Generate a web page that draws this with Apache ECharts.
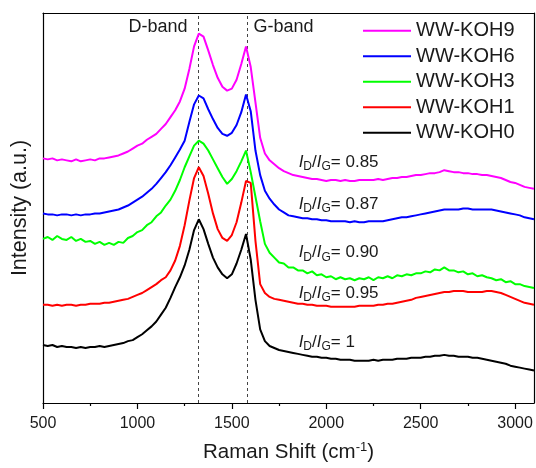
<!DOCTYPE html>
<html>
<head>
<meta charset="utf-8">
<script src="https://cdn.jsdelivr.net/npm/echarts@6/dist/echarts.min.js"></script>
<style>
  html, body { margin: 0; padding: 0; background: #fff; }
  #chart { width: 536px; height: 468px; }
</style>
</head>
<body>
<div id="chart"></div>
<script>
// Raman shift sampling (cm-1), 500 to 3100 in steps of 25
const ramanShift = [];
for (let w = 500; w <= 3100; w += 25) ramanShift.push(w);

// Stacked (offset) intensities, arbitrary units
const koh9 = [249,248,249,247,248,247,246,248,246,247,248,247,249,249,250,251,252,254,256,259,
  262,264,268,271,274,279,284,291,298,307,320,340,363,376,373,359,344,331,322,318,
  320,329,345,363,342,306,270,254,247,243,239,236,234,232,231,230,229,228,228,227,
  226,227,227,226,227,226,226,227,227,227,227,228,227,228,229,229,230,230,231,232,
  232,233,234,234,235,237,236,235,235,234,234,233,233,232,232,231,230,229,227,225,
  224,222,220,219,218];
const koh6 = [193,192,192,191,192,192,191,192,191,192,192,193,193,194,195,196,197,199,201,204,
  207,210,214,218,223,229,235,242,250,258,267,286,304,313,310,299,289,280,274,272,
  275,283,296,314,297,257,232,216,208,202,197,194,191,190,189,188,188,187,187,186,
  186,185,185,185,185,184,185,184,184,185,185,185,185,186,187,188,189,189,190,191,
  192,193,194,195,196,197,197,197,197,198,198,197,197,197,197,197,196,195,194,193,
  192,191,189,188,187];
const koh3 = [167,169,166,170,167,166,169,165,167,164,165,162,164,161,163,161,164,163,168,170,
  174,176,181,184,190,194,201,207,216,227,240,251,262,267,264,257,248,239,230,223,
  228,236,246,257,235,210,185,162,153,148,143,142,138,138,135,135,132,134,130,131,
  128,129,126,128,126,127,125,127,126,128,125,128,127,129,127,130,129,131,130,132,
  132,134,133,136,135,138,135,135,133,134,131,132,129,130,128,127,125,126,123,124,
  121,121,119,118,117];
const koh1 = [100,100,99,100,99,100,100,99,100,100,101,101,101,102,102,103,104,105,106,108,
  110,112,115,118,121,125,128,135,145,160,181,206,229,240,231,213,193,177,168,165,
  171,184,204,226,224,165,121,112,108,106,105,104,103,102,101,101,100,100,99,99,
  99,98,98,98,98,98,98,99,99,99,99,100,100,101,101,102,103,104,105,107,
  108,109,110,111,112,113,113,114,114,114,113,113,113,113,114,114,113,112,110,108,
  106,104,102,101,100];
const koh0 = [59,58,59,57,58,57,57,56,57,56,57,57,58,57,58,59,60,61,63,64,
  67,70,74,78,83,90,97,107,118,128,140,156,176,187,177,162,148,138,131,127,
  131,142,156,172,146,105,75,63,58,56,54,53,52,51,50,49,48,47,47,46,
  46,45,45,44,44,44,43,43,43,43,44,43,44,44,44,45,45,45,46,46,
  46,47,47,48,48,49,48,48,47,47,47,46,46,45,44,43,42,41,40,38,
  37,36,35,34,33];

const sampleNames = ['WW-KOH9', 'WW-KOH6', 'WW-KOH3', 'WW-KOH1', 'WW-KOH0'];
const sampleColors = ['#ff00ff', '#0000ff', '#00ff00', '#ff0000', '#000000'];
const sampleValues = [koh9, koh6, koh3, koh1, koh0];
const ratioLabels = ['0.85', '0.87', '0.90', '0.95', '1'];
// anchor of each I_D/I_G annotation: [Raman shift, intensity]
const ratioAnchors = [[1851, 245], [1851, 202], [1851, 153], [1851, 112], [1851, 62]];

const bandNames = ['D-band', 'G-band'];
const bandPositions = [1321, 1580];

const majorTicks = [500, 1000, 1500, 2000, 2500, 3000];
const minorTicks = [750, 1250, 1750, 2250, 2750];

const FONT = 'Liberation Sans, Arial, Helvetica, sans-serif';
const TEXT = '#1a1a1a';

const ratioRich = {
  i: { fontFamily: FONT, fontSize: 17, fontStyle: 'italic', color: TEXT },
  s: { fontFamily: FONT, fontSize: 12, color: TEXT, padding: [9, 0, 0, 0] },
  n: { fontFamily: FONT, fontSize: 17, color: TEXT }
};

const series = sampleNames.map((name, k) => ({
  name: name,
  type: 'line',
  showSymbol: false,
  symbol: 'none',
  z: 10 - k,
  lineStyle: { color: sampleColors[k], width: 2 },
  itemStyle: { color: sampleColors[k] },
  data: ramanShift.map((w, j) => [w, sampleValues[k][j]]),
  markPoint: {
    silent: true,
    symbol: 'circle',
    symbolSize: 1,
    itemStyle: { color: 'rgba(0,0,0,0)' },
    data: [{
      coord: ratioAnchors[k],
      label: {
        show: true,
        position: 'right',
        distance: 0,
        formatter: '{i|I}{s|D}{n|/}{i|I}{s|G}{n|= ' + ratioLabels[k] + '}',
        rich: ratioRich
      }
    }]
  }
}));

// band markers: dotted guide lines and their names
series[4].markLine = {
  silent: true,
  symbol: ['none', 'none'],
  label: { show: false },
  lineStyle: { color: '#444', width: 1, type: [3, 3] },
  data: bandPositions.map(v => ({ xAxis: v }))
};
series[4].markPoint.data.push(
  {
    coord: [bandPositions[0] - 53, 383],
    label: { show: true, position: 'left', distance: 0, formatter: bandNames[0],
      fontFamily: FONT, fontSize: 18, color: TEXT }
  },
  {
    coord: [bandPositions[1] + 32, 383],
    label: { show: true, position: 'right', distance: 0, formatter: bandNames[1],
      fontFamily: FONT, fontSize: 18, color: TEXT }
  }
);

const frameLine = { show: true, onZero: false, lineStyle: { color: '#000', width: 1.2 } };

const chart = echarts.init(document.getElementById('chart'), null, { renderer: 'canvas' });
chart.setOption({
  animation: false,
  backgroundColor: '#ffffff',
  grid: { left: 43, right: 2, top: 13, bottom: 58 },
  legend: {
    data: sampleNames,
    orient: 'vertical',
    left: 363,
    top: 18,
    padding: 0,
    icon: 'rect',
    itemWidth: 48,
    itemHeight: 2,
    itemGap: 0,
    selectedMode: false,
    textStyle: { fontFamily: FONT, fontSize: 20, color: TEXT, lineHeight: 25.5 }
  },
  xAxis: [
    {
      type: 'value',
      min: 500,
      max: 3100,
      name: 'Raman Shift (cm{sup|-1})',
      nameLocation: 'middle',
      nameGap: 38,
      nameTextStyle: {
        fontFamily: FONT, fontSize: 20.5, color: TEXT,
        rich: { sup: { fontFamily: FONT, fontSize: 13, color: TEXT, padding: [0, 0, 10, 0] } }
      },
      axisLine: frameLine,
      axisTick: { show: true, length: 6, customValues: majorTicks, lineStyle: { color: '#000', width: 1.2 } },
      axisLabel: {
        show: true, customValues: majorTicks, margin: 13,
        fontFamily: FONT, fontSize: 16, color: TEXT,
        formatter: v => String(v)
      },
      splitLine: { show: false }
    },
    {
      // minor ticks
      type: 'value',
      min: 500,
      max: 3100,
      position: 'bottom',
      axisLine: { show: false },
      axisTick: { show: true, length: 3, customValues: minorTicks, lineStyle: { color: '#000', width: 1.2 } },
      axisLabel: { show: false },
      splitLine: { show: false }
    },
    {
      // top edge of the frame
      type: 'value',
      min: 500,
      max: 3100,
      position: 'top',
      axisLine: frameLine,
      axisTick: { show: false },
      axisLabel: { show: false },
      splitLine: { show: false }
    }
  ],
  yAxis: [
    {
      type: 'value',
      min: 0,
      max: 397,
      name: 'Intensity (a.u.)',
      nameLocation: 'middle',
      nameGap: 12,
      nameTextStyle: { fontFamily: FONT, fontSize: 21.5, color: TEXT },
      axisLine: frameLine,
      axisTick: { show: false },
      axisLabel: { show: false },
      splitLine: { show: false }
    },
    {
      // right edge of the frame
      type: 'value',
      min: 0,
      max: 397,
      position: 'right',
      axisLine: frameLine,
      axisTick: { show: false },
      axisLabel: { show: false },
      splitLine: { show: false }
    }
  ],
  series: series
});
</script>
</body>
</html>
